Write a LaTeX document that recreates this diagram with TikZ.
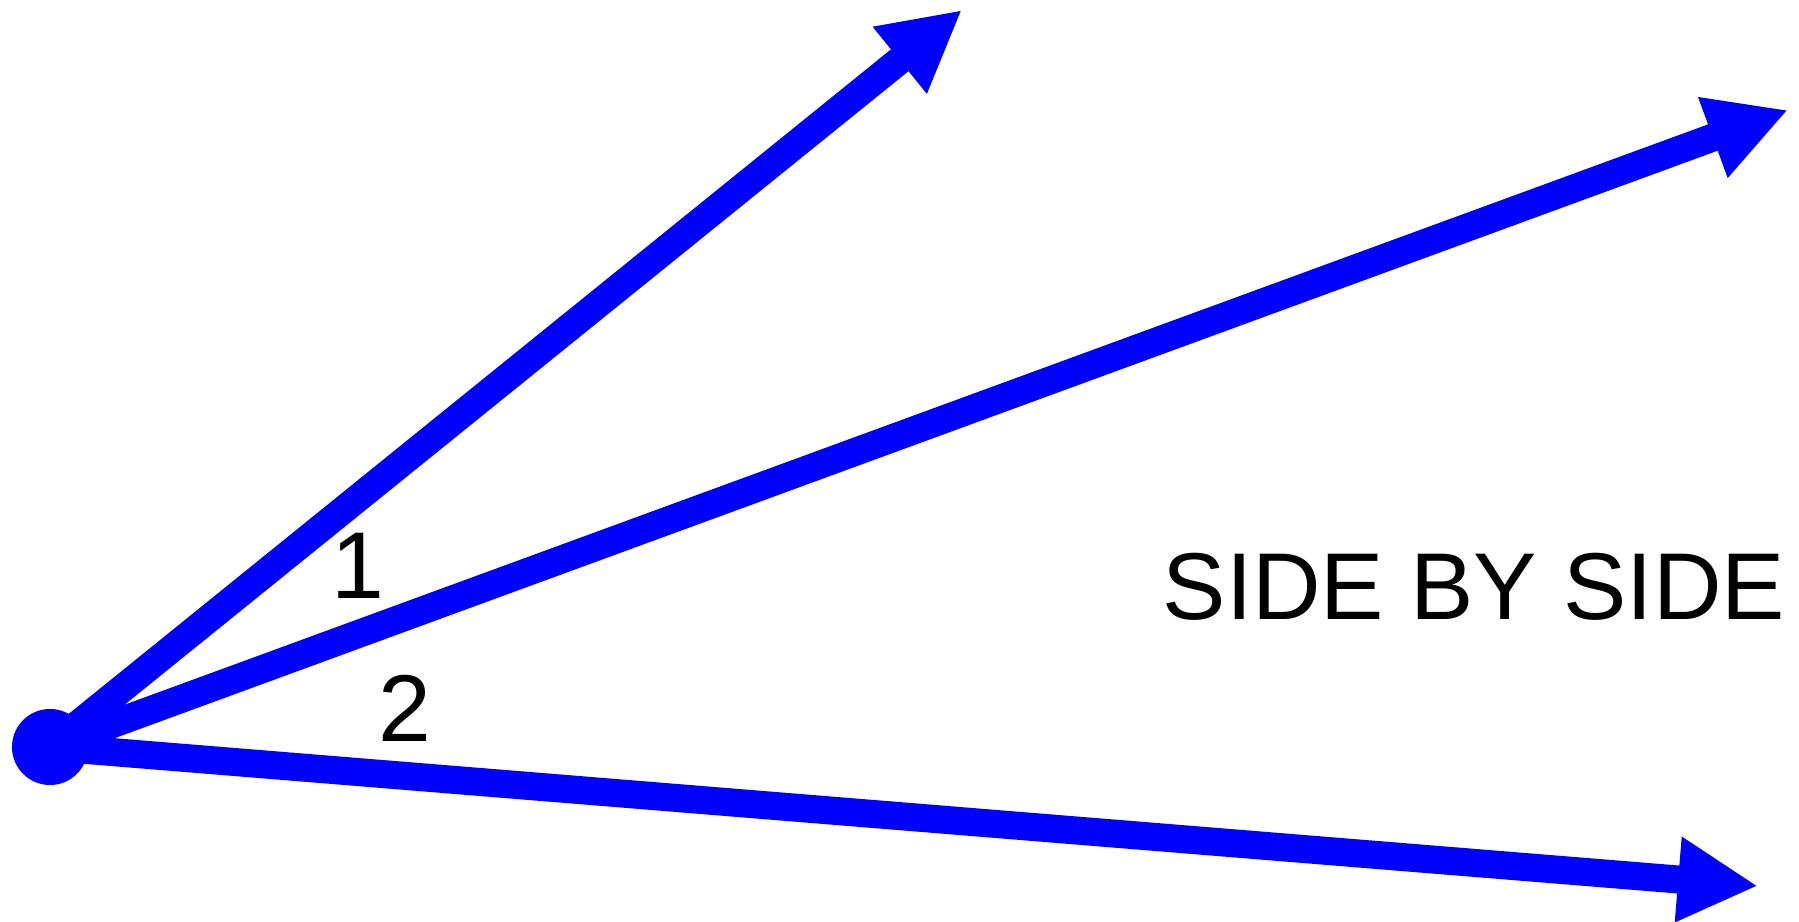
\documentclass[tikz,border=0pt]{standalone}
\usepackage{fontspec}
\setmainfont{Liberation Sans}
\definecolor{raysblue}{RGB}{0, 0, 255}
\usetikzlibrary{arrows.meta}
\tikzset{
  ray/.style={line width=0.28cm, raysblue, -{Triangle[length=0.8cm, width=0.8cm]}},
  anglelabel/.style={font=\fontsize{27}{27}\selectfont, inner sep=0pt}
}
\begin{document}
\begin{tikzpicture}[x=0.01cm, y=0.01cm]
\useasboundingbox (0,0) rectangle (1799,922);
\node[circle, fill=raysblue, minimum size=0.76cm, inner sep=0pt] (vertex) at (50,175) {};
\coordinate (tipa) at (962,912);
\coordinate (tipb) at (1788,812);
\coordinate (tipc) at (1758,36);
\draw[ray] (vertex.center) -- (tipa);
\draw[ray] (vertex.center) -- (tipb);
\draw[ray] (vertex.center) -- (tipc);
\node[anglelabel] (one) at (358,356) {1};
\node[anglelabel] (two) at (405,214) {2};
\node[anglelabel, anchor=base] (caption) at (1474,302) {SIDE BY SIDE};
\end{tikzpicture}
\end{document}
